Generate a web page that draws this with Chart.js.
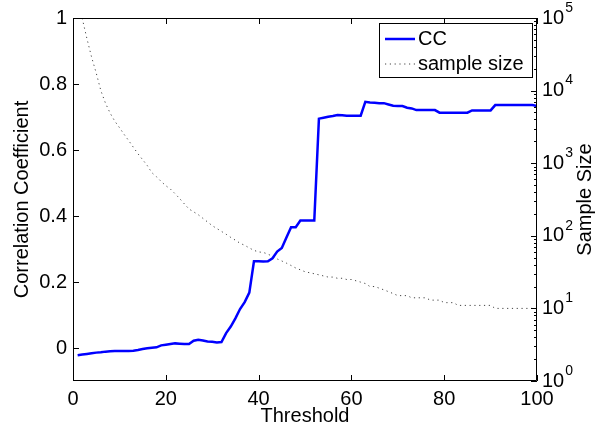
<!DOCTYPE html>
<html>
<head>
<meta charset="utf-8">
<script src="https://cdn.jsdelivr.net/npm/chart.js@4.4.1/dist/chart.umd.min.js"></script>
<style>
  html, body { margin: 0; padding: 0; background: #fff; }
  #wrap { width: 612px; height: 432px; }
</style>
</head>
<body>
<div id="wrap"><canvas id="myChart" width="612" height="432"></canvas></div>
<script>
// Data
const thresholds = [
    1, 2, 3, 4, 5, 6, 7, 8, 9, 10,
    11, 12, 13, 14, 15, 16, 17, 18, 19, 20,
    21, 22, 23, 24, 25, 26, 27, 28, 29, 30,
    31, 32, 33, 34, 35, 36, 37, 38, 39, 40,
    41, 42, 43, 44, 45, 46, 47, 48, 49, 50,
    51, 52, 53, 54, 55, 56, 57, 58, 59, 60,
    61, 62, 63, 64, 65, 66, 67, 68, 69, 70,
    71, 72, 73, 74, 75, 76, 77, 78, 79, 80,
    81, 82, 83, 84, 85, 86, 87, 88, 89, 90,
    91, 92, 93, 94, 95, 96, 97, 98, 99, 100
];

const ccValues = [
    -0.022, -0.020, -0.018, -0.016, -0.014, -0.013, -0.011, -0.010, -0.009, -0.009,
    -0.009, -0.009, -0.008, -0.006, -0.003, -0.001, 0.001, 0.002, 0.008, 0.010,
    0.012, 0.014, 0.013, 0.012, 0.012, 0.022, 0.025, 0.023, 0.020, 0.019,
    0.017, 0.018, 0.045, 0.065, 0.090, 0.118, 0.139, 0.168, 0.263, 0.263,
    0.262, 0.263, 0.272, 0.292, 0.303, 0.335, 0.366, 0.366, 0.386, 0.386,
    0.386, 0.386, 0.695, 0.698, 0.701, 0.703, 0.706, 0.705, 0.704, 0.704,
    0.704, 0.704, 0.746, 0.744, 0.743, 0.742, 0.742, 0.738, 0.734, 0.733,
    0.733, 0.728, 0.726, 0.721, 0.721, 0.721, 0.721, 0.721, 0.713, 0.713,
    0.713, 0.713, 0.713, 0.713, 0.713, 0.720, 0.720, 0.720, 0.720, 0.720,
    0.736, 0.736, 0.736, 0.736, 0.736, 0.736, 0.736, 0.736, 0.736, 0.733
];

const sampleSizes = [
    180000, 98000, 52000, 29000, 17500, 10000, 6700, 4900, 3800, 3100,
    2500, 2050, 1660, 1350, 1120, 930, 740, 650, 560, 490,
    440, 380, 325, 275, 234, 214, 195, 174, 155, 138,
    126, 115, 105, 95, 87, 79, 74, 68, 63, 60,
    59, 56, 52, 48, 45, 42, 39, 36, 34, 32,
    31, 30, 29, 28, 27, 27, 26, 26, 25, 25,
    24, 23, 22, 20, 20, 19, 18, 17, 16, 15,
    15, 15, 14, 14, 14, 14, 13, 13, 13, 12,
    12, 12, 11, 11, 11, 11, 11, 11, 11, 11,
    10, 10, 10, 10, 10, 10, 10, 10, 10, 10
];

const xTicks = [0, 20, 40, 60, 80, 100];
const ccTicks = [0, 0.2, 0.4, 0.6, 0.8, 1];
const sizeExponents = [0, 1, 2, 3, 4, 5];

const FONT = "'Liberation Sans', Arial, Helvetica, sans-serif";
const DOTS = [1.2, 3.6];

// Box, inward ticks, right axis labels, legend
const matlabFrame = {
    id: 'matlabFrame',
    afterDraw(chart) {
        const { ctx, chartArea: a, scales } = chart;
        ctx.save();
        ctx.strokeStyle = '#000';
        ctx.lineWidth = 1;
        ctx.beginPath();
        ctx.rect(a.left + 0.5, a.top + 0.5, a.right - a.left - 1, a.bottom - a.top - 1);

        xTicks.forEach(v => {
            const px = Math.round(scales.x.getPixelForValue(v)) + 0.5;
            ctx.moveTo(px, a.bottom);
            ctx.lineTo(px, a.bottom - 6);
            ctx.moveTo(px, a.top);
            ctx.lineTo(px, a.top + 6);
        });
        ccTicks.forEach(v => {
            const py = Math.round(scales.y.getPixelForValue(v)) + 0.5;
            ctx.moveTo(a.left, py);
            ctx.lineTo(a.left + 6, py);
        });
        sizeExponents.forEach(k => {
            const py = Math.round(scales.y1.getPixelForValue(Math.pow(10, k))) + 0.5;
            ctx.moveTo(a.right, py);
            ctx.lineTo(a.right - 6, py);
            if (k < 5) {
                for (let m = 2; m <= 9; m++) {
                    const pm = Math.round(scales.y1.getPixelForValue(m * Math.pow(10, k))) + 0.5;
                    ctx.moveTo(a.right, pm);
                    ctx.lineTo(a.right - 3, pm);
                }
            }
        });
        ctx.stroke();

        // right axis labels 10^k
        ctx.fillStyle = '#000';
        ctx.textBaseline = 'middle';
        ctx.textAlign = 'left';
        sizeExponents.forEach(k => {
            const py = scales.y1.getPixelForValue(Math.pow(10, k));
            ctx.font = '20px ' + FONT;
            ctx.fillText('10', a.right + 5, py);
            const w = ctx.measureText('10').width;
            ctx.font = '14px ' + FONT;
            ctx.fillText(String(k), a.right + 6 + w, py - 10);
        });

        // right axis title
        ctx.save();
        ctx.translate(585, (a.top + a.bottom) / 2);
        ctx.rotate(-Math.PI / 2);
        ctx.textAlign = 'center';
        ctx.font = '20px ' + FONT;
        ctx.fillText('Sample Size', 0, 0);
        ctx.restore();

        // legend
        const lx = a.right - 158, ly = a.top + 5, lw = 153, lh = 54;
        ctx.fillStyle = '#fff';
        ctx.fillRect(lx, ly, lw, lh);
        ctx.strokeStyle = '#000';
        ctx.lineWidth = 1;
        ctx.strokeRect(lx + 0.5, ly + 0.5, lw, lh);

        ctx.beginPath();
        ctx.strokeStyle = '#0000ff';
        ctx.lineWidth = 2.5;
        ctx.moveTo(lx + 6, ly + 16);
        ctx.lineTo(lx + 36, ly + 16);
        ctx.stroke();

        ctx.beginPath();
        ctx.strokeStyle = '#444';
        ctx.lineWidth = 1;
        ctx.setLineDash(DOTS);
        ctx.moveTo(lx + 6, ly + 41);
        ctx.lineTo(lx + 36, ly + 41);
        ctx.stroke();
        ctx.setLineDash([]);

        ctx.fillStyle = '#000';
        ctx.font = '20px ' + FONT;
        ctx.fillText('CC', lx + 39, ly + 16);
        ctx.fillText('sample size', lx + 39, ly + 41);
        ctx.restore();
    }
};

const data = {
    datasets: [{
            label: 'CC',
            data: thresholds.map((t, i) => ({ x: t, y: ccValues[i] })),
            yAxisID: 'y',
            borderColor: '#0000ff',
            borderWidth: 2.5,
            pointRadius: 0,
            tension: 0,
        },
        {
            label: 'sample size',
            data: thresholds.map((t, i) => ({ x: t, y: sampleSizes[i] })),
            yAxisID: 'y1',
            borderColor: '#444',
            borderWidth: 1,
            borderDash: DOTS,
            pointRadius: 0,
            tension: 0,
        }
    ]
};

const config = {
    type: 'line',
    data: data,
    options: {
        responsive: false,
        animation: false,
        layout: { padding: { top: 14, left: 0, right: 0, bottom: 0 } },
        plugins: {
            legend: { display: false },
            tooltip: { enabled: false }
        },
        scales: {
            x: {
                type: 'linear',
                min: 0,
                max: 100,
                grid: { display: false, drawTicks: false },
                border: { display: false },
                afterBuildTicks(scale) {
                    scale.ticks = xTicks.map(v => ({ value: v }));
                },
                afterFit(scale) { scale.height = 51; },
                ticks: {
                    padding: 6,
                    maxRotation: 0,
                    color: '#000',
                    font: { family: FONT, size: 20 }
                },
                title: {
                    display: true,
                    text: 'Threshold',
                    color: '#000',
                    font: { family: FONT, size: 20 },
                    padding: { top: 0, bottom: 4 }
                }
            },
            y: {
                position: 'left',
                min: -0.1,
                max: 1,
                grid: { display: false, drawTicks: false },
                border: { display: false },
                afterBuildTicks(scale) {
                    scale.ticks = ccTicks.map(v => ({ value: v }));
                },
                afterFit(scale) { scale.width = 73; },
                ticks: {
                    padding: 6,
                    color: '#000',
                    font: { family: FONT, size: 20 },
                    callback: v => String(+v.toFixed(1))
                },
                title: {
                    display: true,
                    text: 'Correlation Coefficient',
                    color: '#000',
                    font: { family: FONT, size: 20 },
                    padding: { top: 10, bottom: 0 }
                }
            },
            y1: {
                type: 'logarithmic',
                position: 'right',
                min: 1,
                max: 100000,
                grid: { display: false, drawTicks: false },
                border: { display: false },
                ticks: { display: false },
                afterFit(scale) { scale.width = 75; }
            }
        }
    },
    plugins: [matlabFrame]
};

const myChart = new Chart(
    document.getElementById('myChart'),
    config
);
</script>
</body>
</html>
